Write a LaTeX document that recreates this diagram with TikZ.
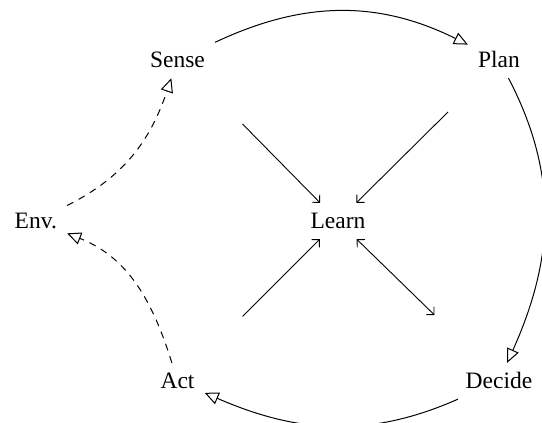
\documentclass[tikz,border=0pt]{standalone}
\usepackage{fontspec}
\setmainfont{Liberation Serif}
\usetikzlibrary{arrows.meta}
\begin{document}
\begin{tikzpicture}[x=1pt,y=1pt,
  lbl/.style={font=\fontsize{23.5}{27}\selectfont, text height=15pt, text depth=0pt, inner xsep=10pt, inner ysep=10.5pt},
  flow/.style={line width=1pt, -{Triangle[open,length=14pt,width=12.5pt]}},
  envflow/.style={flow, dash pattern=on 7pt off 6pt},
  learnarrow/.style={line width=0.9pt, -{Straight Barb[length=5.5pt,width=11pt]}},
  learnboth/.style={line width=0.9pt, {Straight Barb[length=5.5pt,width=11pt]}-{Straight Barb[length=5.5pt,width=11pt]}}]
\useasboundingbox (0,0) rectangle (542,423);
\node[lbl] (sense)  at (177.5,363) {Sense};
\node[lbl] (plan)   at (499,363)   {Plan};
\node[lbl] (env)    at (35.8,202)  {Env.};
\node[lbl] (learn)  at (338,202)   {Learn};
\node[lbl] (act)    at (177.5,42)  {Act};
\node[lbl] (decide) at (499,42)    {Decide};
\coordinate (ul) at (242.5,299);
\coordinate (ur) at (448,311);
\coordinate (ll) at (242.5,106.5);
\coordinate (lr) at (434.5,108);
\draw[flow] (sense) to[out=25.3,in=153.9] (plan);
\draw[flow] (plan) to[out=-62.5,in=65.9] (decide);
\draw[flow] (decide) to[out=-156.2,in=-23.7] (act);
\draw[envflow] (env) to[out=26.6,in=-108.9] (sense);
\draw[envflow] (act) to[out=107.3,in=-21.8] (env);
\draw[learnarrow] (ul) -- (learn);
\draw[learnarrow] (ur) -- (learn);
\draw[learnarrow] (ll) -- (learn);
\draw[learnboth] (learn) -- (lr);
\end{tikzpicture}
\end{document}
